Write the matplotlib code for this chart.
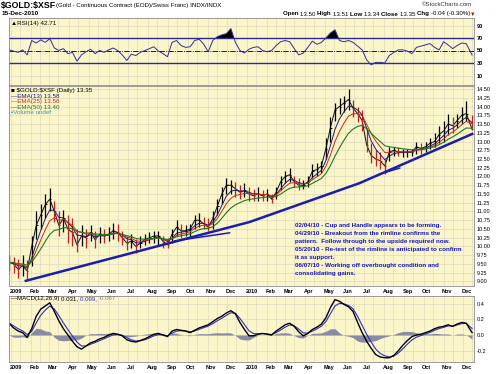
import numpy as np
import pandas as pd
import matplotlib
matplotlib.use('Agg')
import matplotlib.pyplot as plt
import matplotlib.dates as mdates
from matplotlib import font_manager as fm
from matplotlib.transforms import ScaledTranslation

names = {f.name for f in fm.fontManager.ttflist}
NARROW = 'Liberation Sans Narrow' if 'Liberation Sans Narrow' in names else 'Liberation Sans'
plt.rcParams['font.family'] = [NARROW, 'DejaVu Sans']

# ---------------- data (weekly samples) ----------------
dates = list(pd.date_range('2008-12-29', periods=102, freq='7D')) + [pd.Timestamp('2010-12-15')]

close = [9.55, 9.50, 9.35, 9.45, 9.30, 10.00, 10.60, 10.90, 11.20, 11.35,
         11.00, 10.60, 10.80, 10.50, 10.40, 10.05, 10.30, 10.25, 10.40, 10.20,
         10.35, 10.30, 10.35, 10.45, 10.40, 10.25, 10.10, 10.15, 10.00, 10.10,
         10.20, 10.25, 10.30, 10.30, 10.15, 10.05, 10.35, 10.55, 10.45, 10.45,
         10.50, 10.75, 10.75, 10.65, 10.55, 10.80, 11.15, 11.50, 11.75, 11.75,
         11.65, 11.55, 11.60, 11.50, 11.45, 11.50, 11.45, 11.50, 11.35, 11.55,
         11.85, 12.00, 12.05, 11.85, 11.75, 11.75, 11.85, 12.15, 12.20, 12.30,
         12.80, 13.40, 13.90, 14.00, 14.10, 14.20, 13.95, 13.80, 13.60, 12.90,
         12.60, 12.50, 12.45, 12.30, 12.70, 12.75, 12.70, 12.70, 12.70, 12.70,
         12.85, 12.80, 12.85, 12.95, 13.00, 13.20, 13.30, 13.50, 13.45, 13.60,
         13.75, 13.80, 13.35]
high = [9.75, 9.70, 9.65, 9.75, 9.60, 10.30, 11.00, 11.20, 11.50, 11.67,
        11.30, 11.00, 11.05, 10.90, 10.80, 10.50, 10.60, 10.50, 10.60, 10.45,
        10.55, 10.50, 10.55, 10.67, 10.65, 10.45, 10.30, 10.35, 10.20, 10.30,
        10.35, 10.40, 10.45, 10.45, 10.30, 10.25, 10.50, 10.75, 10.65, 10.60,
        10.65, 10.90, 10.95, 10.85, 10.80, 11.00, 11.35, 11.70, 11.95, 11.90,
        11.85, 11.75, 11.80, 11.70, 11.65, 11.70, 11.60, 11.65, 11.50, 11.70,
        12.00, 12.15, 12.24, 12.00, 11.95, 11.90, 12.00, 12.35, 12.40, 12.45,
        13.10, 13.70, 14.10, 14.25, 14.30, 14.50, 14.20, 14.00, 13.90, 13.40,
        12.95, 12.75, 12.70, 12.50, 12.85, 12.85, 12.85, 12.80, 12.80, 12.80,
        12.99, 12.95, 13.00, 13.10, 13.25, 13.45, 13.60, 13.80, 13.70, 13.80,
        14.00, 14.15, 13.75]
low = [9.30, 9.25, 9.10, 9.15, 9.05, 9.45, 10.20, 10.50, 10.80, 11.00,
       10.70, 10.30, 10.40, 10.10, 10.00, 9.84, 10.00, 9.95, 10.15, 9.95,
       10.10, 10.10, 10.15, 10.20, 10.15, 10.05, 9.90, 9.95, 9.81, 9.95,
       10.05, 10.10, 10.10, 10.05, 9.95, 9.95, 10.10, 10.30, 10.25, 10.30,
       10.30, 10.50, 10.55, 10.50, 10.45, 10.50, 10.90, 11.20, 11.50, 11.50,
       11.40, 11.35, 11.40, 11.30, 11.30, 11.30, 11.30, 11.30, 11.24, 11.35,
       11.60, 11.80, 11.85, 11.70, 11.60, 11.64, 11.70, 11.95, 12.00, 12.10,
       12.50, 13.00, 13.60, 13.80, 13.85, 13.90, 13.70, 13.55, 13.30, 12.70,
       12.40, 12.30, 12.20, 12.07, 12.45, 12.60, 12.60, 12.55, 12.55, 12.60,
       12.65, 12.65, 12.70, 12.80, 12.85, 12.95, 13.00, 13.20, 13.25, 13.40,
       13.50, 13.60, 13.34]
rsi = [51, 49, 47, 51, 43, 66, 62, 67, 63, 69,
       54, 50, 53, 45, 47, 33, 43, 48, 52, 45,
       50, 47, 51, 54, 50, 43, 34, 44, 42, 47,
       50, 53, 56, 49, 45, 40, 63, 66, 58, 55,
       56, 66, 68, 60, 48, 66, 72, 75, 77, 85,
       63, 50, 46, 52, 55, 56, 50, 48, 50, 58,
       64, 66, 64, 53, 43, 46, 55, 65, 60, 63,
       70, 78, 83, 66, 64, 66, 63, 57, 51, 35,
       27, 31, 31, 30, 42, 47, 51, 51, 49, 45,
       55, 57, 59, 61, 55, 51, 64, 59, 53, 58,
       62, 61, 42.71]
macd = [0.15, 0.09, 0.05, 0.03, -0.03, 0.08, 0.24, 0.33, 0.37, 0.41,
        0.30, 0.18, 0.08, 0.00, -0.08, -0.15, -0.18, -0.14, -0.10, -0.08,
        -0.05, -0.03, 0.00, 0.02, 0.01, -0.01, -0.06, -0.08, -0.09, -0.07,
        -0.05, -0.02, 0.01, 0.02, 0.00, -0.02, 0.05, 0.07, 0.06, 0.05,
        0.03, 0.06, 0.09, 0.11, 0.13, 0.17, 0.21, 0.24, 0.28, 0.31,
        0.27, 0.16, 0.07, -0.01, -0.01, 0.01, 0.02, 0.01, 0.00, 0.05,
        0.09, 0.13, 0.15, 0.11, 0.04, -0.01, 0.02, 0.07, 0.10, 0.14,
        0.22, 0.35, 0.45, 0.43, 0.39, 0.36, 0.30, 0.16, 0.03, -0.08,
        -0.17, -0.25, -0.28, -0.29, -0.29, -0.26, -0.20, -0.13, -0.07, -0.02,
        0.00, 0.01, 0.03, 0.05, 0.08, 0.10, 0.11, 0.13, 0.11, 0.14,
        0.16, 0.15, 0.031]

trend_dates = ['2009-01-22', '2010-01-05', '2010-06-24', '2010-12-17']
trend_prices = [9.01, 10.70, 11.81, 13.23]
short1_dates = ['2009-09-11', '2009-12-05']
short1_prices = [10.16, 10.39]
short2_dates = ['2010-07-25', '2010-08-25']
short2_prices = [12.07, 12.24]

month_labels = ['2009', 'Feb', 'Mar', 'Apr', 'May', 'Jun', 'Jul', 'Aug', 'Sep', 'Oct', 'Nov', 'Dec',
                '2010', 'Feb', 'Mar', 'Apr', 'May', 'Jun', 'Jul', 'Aug', 'Sep', 'Oct', 'Nov', 'Dec']
price_ticks = [9.00 + 0.25 * i for i in range(23)]
rsi_ticks = [10, 30, 50, 70, 90]
macd_ticks = [-0.2, 0.0, 0.2, 0.4]

notes = ['02/04/10 - Cup and Handle appears to be forming.',
         '04/29/10 - Breakout from the rimline confirms the',
         'pattern.  Follow through to the upside required now.',
         '05/20/10 - Re-test of the rimline is anticipated to confirm',
         'it as support.',
         '06/07/10 - Working off overbought condition and',
         'consolidating gains.']

# weekly-equivalent spans of the daily indicators
def wspan(n):
    return (n - 1) / 5 + 1

cs = pd.Series(close)
ema13 = cs.ewm(span=wspan(13), adjust=False).mean()
ema25 = cs.ewm(span=wspan(25), adjust=False).mean()
ema50 = cs.ewm(span=wspan(50), adjust=False).mean()
ms = pd.Series(macd)
signal = ms.ewm(span=wspan(9), adjust=False).mean()
hist = ms - signal

# ---------------- figure ----------------
W, H = 500, 374
fig = plt.figure(figsize=(W / 100, H / 100), dpi=100)
fig.patch.set_facecolor('white')

def axes_box(x0, y0, x1, y1):
    return fig.add_axes([x0 / W, 1 - y1 / H, (x1 - x0) / W, (y1 - y0) / H])

ax_r = axes_box(9, 18, 474, 85)
ax = axes_box(9, 86, 474, 286)
ax_m = axes_box(9, 296, 474, 362)

PANEL = '#faf6c9'
GRID = '#dedac0'
d = mdates.date2num(dates)
xl = (mdates.date2num(pd.Timestamp('2008-12-28 21:00')), mdates.date2num(pd.Timestamp('2010-12-18')))
mstarts = mdates.date2num(pd.date_range('2009-01-01', '2010-12-01', freq='MS'))
mids = mdates.date2num(pd.date_range('2009-01-01', '2010-12-01', freq='MS') + pd.Timedelta(days=14))

for a in (ax_r, ax, ax_m):
    a.set_facecolor(PANEL)
    a.set_xlim(xl)
    a.set_xticks(mstarts)
    a.set_xticks(mids, minor=True)
    a.grid(True, which='both', color=GRID, lw=0.5)
    a.set_axisbelow(True)
    a.yaxis.tick_right()
    a.tick_params(which='both', length=0, labelsize=4, pad=2)
    for s in a.spines.values():
        s.set_color('#8c8c8c')
        s.set_linewidth(0.6)

# ---- RSI ----
ax_r.set_ylim(-5.2, 102)
ax_r.set_yticks(rsi_ticks)
ax_r.set_yticklabels([str(t) for t in rsi_ticks], fontweight='bold')
ax_r.set_xticklabels([])
ax_r.axhline(70, color='#2b2b8f', lw=1.0)
ax_r.axhline(30, color='#2b2b8f', lw=1.0)
ax_r.axhline(50, color='black', lw=0.6, ls='-.')
r = np.array(rsi, dtype=float)
ax_r.fill_between(d, 70, r, where=r > 70, interpolate=True, color='black', lw=0)
ax_r.plot(d, r, color='#2f2f9a', lw=0.7)
ax_r.text(0.004, 0.96, '\u25b2RSI(14) 42.71', transform=ax_r.transAxes, fontsize=4.5,
          va='top', ha='left', color='black')

# ---- price ----
ax.set_ylim(8.871, 14.586)
ax.set_yticks(price_ticks)
ax.set_yticklabels(['%.2f' % t for t in price_ticks])
cols = ['black' if i == 0 or close[i] >= close[i - 1] else '#c81e1e' for i in range(len(close))]
ax.plot(d, close, color='#1a1a1a', lw=0.75)
ax.vlines(d, low, high, colors=cols, lw=0.9)
ax.hlines(close, d, d + 2.0, colors=cols, lw=0.7)
ax.plot(d, ema13, color='#1b1b70', lw=0.7)
ax.plot(d, ema25, color='#d02a10', lw=0.7)
ax.plot(d, ema50, color='#1f7a1f', lw=0.8)
ax.plot(mdates.date2num(pd.to_datetime(trend_dates)), trend_prices, color='#1c1cb0', lw=1.8,
        solid_capstyle='butt')
ax.plot(mdates.date2num(pd.to_datetime(short1_dates)), short1_prices, color='#1c1cb0', lw=1.1)
ax.plot(mdates.date2num(pd.to_datetime(short2_dates)), short2_prices, color='#1c1cb0', lw=1.1)
ax.set_xticklabels(month_labels, ha='left', fontweight='bold')

legend = [('\u25a0 \\$GOLD:\\$XSF (Daily) 13.35', 'black'),
          ('\u2014EMA(13) 13.58', '#1b1b70'),
          ('\u2014EMA(25) 13.56', '#d02a10'),
          ('\u2014EMA(50) 13.40', '#1f7a1f'),
          ('\u25aaVolume undef', '#4f8f9f')]
for i, (s, c) in enumerate(legend):
    ax.text(2 / 465, 1 - (4.5 + 5.6 * i) / 200, s, transform=ax.transAxes, fontsize=4.5,
            color=c, va='center', ha='left')

for i, s in enumerate(notes):
    ax.text((295 - 9) / 465, (286 - 226 - 7.9 * i) / 200, s, transform=ax.transAxes,
            fontsize=4.5, fontweight='bold', color='#1414c8', va='center', ha='left')

# ---- MACD ----
ax_m.set_ylim(-0.344, 0.497)
ax_m.set_yticks(macd_ticks)
ax_m.set_yticklabels(['%.1f' % t for t in macd_ticks])
ax_m.fill_between(d, 0, hist, color='#8a8aa4', lw=0)
ax_m.plot(d, signal, color='#3030c0', lw=0.8)
ax_m.plot(d, macd, color='black', lw=1.0)
ax_m.set_xticklabels(month_labels, ha='left', fontweight='bold')

for a in (ax, ax_m):
    for lab in a.get_xticklabels():
        lab.set_transform(lab.get_transform() + ScaledTranslation(-1.5 / 100, 0, fig.dpi_scale_trans))

def chain(x, y, parts, host):
    s, c, w, size = parts[0]
    prev = host.text(x / W, 1 - y / H, s, color=c, fontweight=w, fontsize=size, va='center', ha='left',
                     transform=fig.transFigure, clip_on=False)
    for s, c, w, size in parts[1:]:
        prev = host.annotate(s, xy=(1, 0), xycoords=prev, va='bottom', ha='left', color=c,
                             fontweight=w, fontsize=size, annotation_clip=False)
    return prev

chain(11, 298.5, [('\u2014', 'black', 'normal', 4.4), ('MACD(12,26,9) ', 'black', 'normal', 4.4),
                  ('0.031, ', 'black', 'normal', 4.4),
                  ('0.099, ', '#3030c0', 'normal', 4.4), ('-0.067', '#808080', 'normal', 4.4)], ax_m)

# ---- header ----
fig.text(1 / W, 1 - 5.5 / H, '\\$GOLD:\\$XSF', fontsize=6.3, fontweight='bold', va='center', ha='left')
fig.text(56 / W, 1 - 5.5 / H, '(Gold - Continuous Contract (EOD)/Swiss Franc) INDX/INDX', fontsize=4.4,
         va='center', ha='left')
fig.text(2 / W, 1 - 13.5 / H, '15-Dec-2010', fontsize=4.6, fontweight='bold', va='center', ha='left')
fig.text(472 / W, 1 - 4.5 / H, '\u00a9StockCharts.com', fontsize=4.3, va='center', ha='right', color='#333333')

chain(283, 14, [('Open ', 'black', 'bold', 4.4), ('13.50 ', 'black', 'normal', 4.4),
                ('High ', 'black', 'bold', 4.4), ('13.51 ', 'black', 'normal', 4.4),
                ('Low ', 'black', 'bold', 4.4), ('13.34 ', 'black', 'normal', 4.4),
                ('Close ', 'black', 'bold', 4.4), ('13.35 ', 'black', 'normal', 4.4),
                ('Chg ', 'black', 'bold', 4.4), ('-0.04 (-0.30%)', 'black', 'normal', 4.4),
                ('\u25bc', '#cc0000', 'normal', 4.0)], ax_m)

fig.savefig('out.png', dpi=100, facecolor='white')
